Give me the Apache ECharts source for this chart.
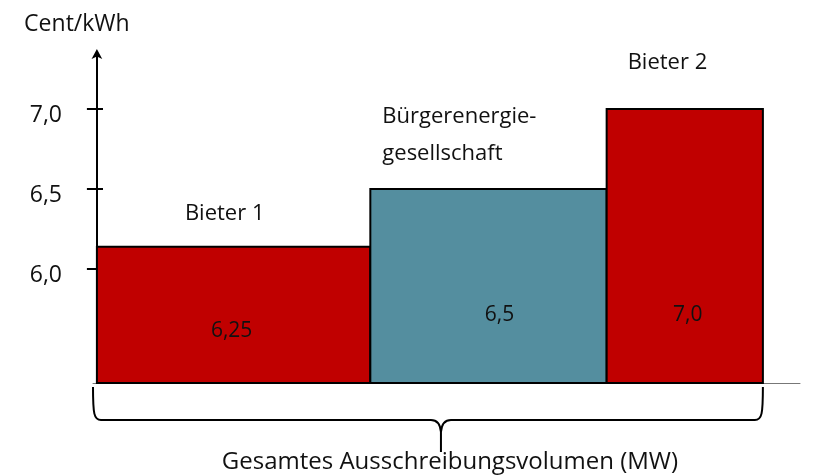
<!DOCTYPE html>
<html>
<head>
<meta charset="utf-8">
<script src="https://cdn.jsdelivr.net/npm/echarts@6/dist/echarts.min.js"></script>
<style>
  html, body { margin: 0; padding: 0; background: #fff; }
  #chart { width: 817px; height: 475px; }
</style>
</head>
<body>
<div id="chart"></div>
<script>
// Werte aus der Grafik
const bidders = ['Bieter 1', 'Bürgerenergie-\ngesellschaft', 'Bieter 2'];
const volumes = [70, 60.5, 40];        // Breite = Volumen (MW, relativ)
const heights = [6.14, 6.5, 7.0];      // gezeichnete Höhe (Cent/kWh)
const priceLabels = ['6,25', '6,5', '7,0'];
const yTicks = [6.0, 6.5, 7.0];
const yMin = 5.288, yMax = 7.344;
const xMin = -1, xMax = 180;
const xTitle = 'Gesamtes Ausschreibungsvolumen (MW)';

const barColors = ['#c00000', '#548e9f', '#c00000'];
// Lage der Beschriftungen relativ zum Balken (px)
const nameOffsets = [[88, -33], [12, -54], [21, -46]];
const valueOffsets = [[-2, -52], [11, -68], [3, -68]];
const FONT = '"Open Sans", sans-serif';

let acc = 0;
const barData = volumes.map((v, i) => {
  const d = [acc, acc + v, heights[i], i];
  acc += v;
  return d;
});

const chart = echarts.init(document.getElementById('chart'));

const option = {
  animation: false,
  grid: { left: 93, right: 17, top: 54, bottom: 92 },
  xAxis: {
    type: 'value', min: xMin, max: xMax,
    axisLine: { show: true, onZero: false, lineStyle: { color: '#777', width: 1 } },
    axisTick: { show: false }, axisLabel: { show: false }, splitLine: { show: false }
  },
  yAxis: [
    {
      type: 'value', min: yMin, max: yMax,
      name: 'Cent/kWh', nameLocation: 'end', nameGap: 18,
      nameTextStyle: { fontFamily: FONT, fontSize: 23, color: '#111', align: 'center', padding: [0, 40, 0, 0] },
      axisLine: { show: true, symbol: ['none', 'arrow'], symbolSize: [8, 10], symbolOffset: [0, 5],
        lineStyle: { color: '#000', width: 2 } },
      axisTick: { show: true, inside: false, length: 10, customValues: yTicks, lineStyle: { color: '#000', width: 2 } },
      axisLabel: {
        show: true, customValues: yTicks, margin: 31, color: '#111',
        formatter: v => '{t|' + v.toFixed(1).replace('.', ',') + '}',
        rich: { t: { fontFamily: FONT, fontSize: 23, color: '#111', padding: [12, 0, 0, 0] } }
      },
      splitLine: { show: false }
    },
    {
      type: 'value', min: yMin, max: yMax, position: 'left',
      axisLine: { show: false },
      axisTick: { show: true, inside: true, length: 10, customValues: yTicks, lineStyle: { color: '#000', width: 2 } },
      axisLabel: { show: false }, splitLine: { show: false }
    }
  ],
  series: [
    {
      type: 'custom',
      yAxisIndex: 0,
      data: barData,
      encode: { x: [0, 1], y: 2 },
      renderItem: function (params, api) {
        const i = api.value(3);
        const p0 = api.coord([api.value(0), api.value(2)]);
        const p1 = api.coord([api.value(1), yMin]);
        const x = p0[0], y = p0[1], w = p1[0] - p0[0], h = p1[1] - p0[1];
        return {
          type: 'group',
          children: [
            { type: 'rect', shape: { x: x, y: y, width: w, height: h },
              style: { fill: barColors[i], stroke: '#000', lineWidth: 2 } },
            { type: 'text', style: { text: bidders[i], x: x + nameOffsets[i][0], y: y + nameOffsets[i][1],
                align: 'left', verticalAlign: 'middle', font: '22px ' + FONT, fill: '#111', lineHeight: 37 } },
            { type: 'text', style: { text: priceLabels[i], x: x + w / 2 + valueOffsets[i][0], y: p1[1] + valueOffsets[i][1],
                align: 'center', verticalAlign: 'middle', font: '21px ' + FONT, fill: '#111' } }
          ]
        };
      }
    },
    {
      // geschweifte Klammer unter der x-Achse
      type: 'custom',
      yAxisIndex: 0,
      silent: true,
      data: [[xMin, acc]],
      encode: { x: [0, 1] },
      renderItem: function (params, api) {
        const left = api.coord([api.value(0), yMin]);
        const right = api.coord([api.value(1), yMin]);
        const x0 = left[0], x1 = right[0], xc = (x0 + x1) / 2 + 13, yb = left[1];
        const y0 = yb + 4, y1 = yb + 37, y2 = yb + 69;
        const path = `M${x0},${y0} C${x0},${y1 - 6} ${x0 + 1},${y1} ${x0 + 8},${y1} L${xc - 10},${y1}` +
          ` Q${xc - 1},${y1} ${xc},${y1 + 12} L${xc},${y2}` +
          ` M${xc},${y1 + 12} Q${xc + 1},${y1} ${xc + 10},${y1} L${x1 - 8},${y1} C${x1 - 1},${y1} ${x1},${y1 - 6} ${x1},${y0}`;
        return {
          type: 'group',
          children: [
            { type: 'path', shape: { pathData: path }, style: { fill: 'none', stroke: '#000', lineWidth: 2 } },
            { type: 'text', style: { text: xTitle, x: xc + 9, y: yb + 79, align: 'center', verticalAlign: 'middle',
                font: '24px ' + FONT, fill: '#111' } }
          ]
        };
      }
    }
  ]
};
chart.setOption(option);
</script>
</body>
</html>
